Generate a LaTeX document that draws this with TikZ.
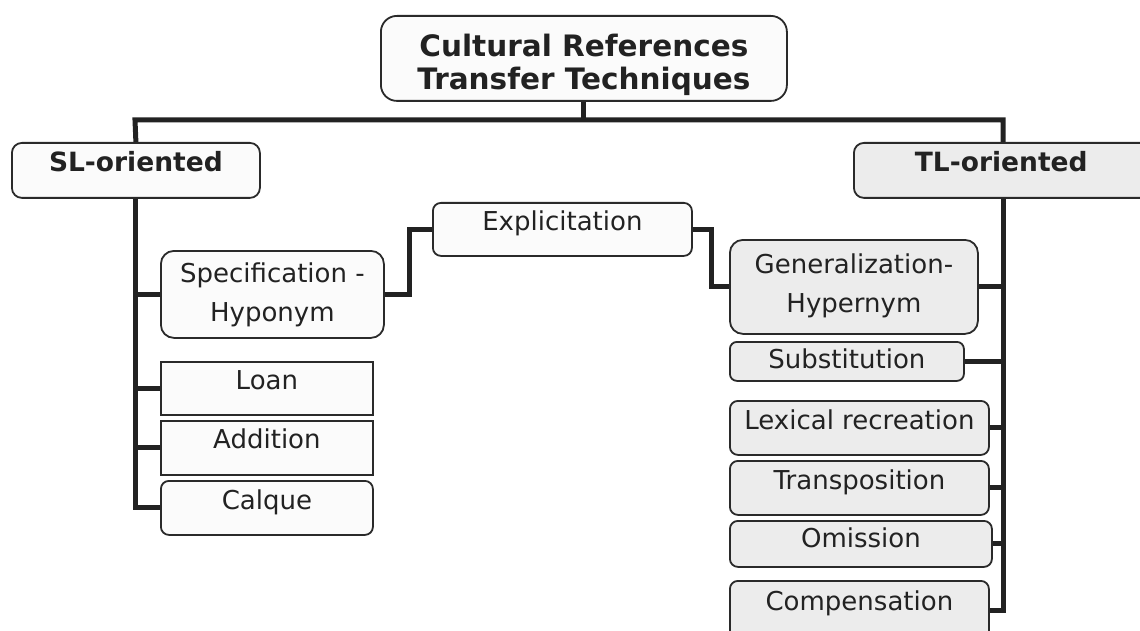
\documentclass[tikz,border=0pt]{standalone}
\usepackage{fontspec}
\setmainfont{DejaVu Sans}
\definecolor{ink}{HTML}{222222}
\definecolor{edge}{HTML}{2A2A2A}
\definecolor{fillW}{HTML}{FBFBFB}
\definecolor{fillG}{HTML}{ECECEC}
\begin{document}
\begin{tikzpicture}[x=1pt,y=-1pt,
  box/.style={draw=edge,line width=1.8pt,text=ink,inner sep=0pt,anchor=north west,
    font=\fontsize{26}{39}\selectfont,align=center},
  wbox/.style={box,fill=fillW},
  gbox/.style={box,fill=fillG},
  oneline/.style={text height=0.8em,text depth=0.6em},
  oneR/.style={text height=0.8em,text depth=0.5em},
  conn/.style={draw=ink,line width=5pt},
  sz/.style 2 args={minimum width=#1pt,minimum height=#2pt}]
\useasboundingbox (0,0) rectangle (1140,631);
\clip (0,0) rectangle (1140,631);
\coordinate (barL) at (135,120);
\coordinate (barR) at (1003,120);
% nodes
\node[wbox,rounded corners=16pt,sz={406}{85},font=\bfseries\fontsize{29.5}{33}\selectfont] (top) at (380,15) {\rule{0pt}{35pt}Cultural References\\Transfer Techniques};
\node[wbox,rounded corners=10pt,sz={248}{55},font=\bfseries\fontsize{26.5}{33}\selectfont,oneline] (sl) at (11,142) {SL-oriented};
\node[gbox,rounded corners=10pt,sz={300}{55},font=\bfseries\fontsize{26.5}{33}\selectfont,oneline,text width=296pt,align=left] (tl) at (853,142) {\hspace*{59pt}TL-oriented};
\node[wbox,rounded corners=8pt,sz={259}{53},oneline] (expl) at (432,202) {Explicitation};
\node[wbox,rounded corners=13pt,sz={223}{87}] (spec) at (160,250) {Specification -\\Hyponym};
\node[wbox,sz={212}{53},oneline] (loan) at (160,361) {Loan};
\node[wbox,sz={212}{54},oneline] (add) at (160,420) {Addition};
\node[wbox,rounded corners=8pt,sz={212}{54},oneR] (calq) at (160,480) {Calque};
\node[gbox,rounded corners=13pt,sz={248}{94},text depth=0.7em] (gen) at (729,239) {Generalization-\\Hypernym};
\node[gbox,rounded corners=7pt,sz={234}{39},text height=0.8em,text depth=0.2em] (sub) at (729,341) {\raisebox{-4pt}{Substitution}};
\node[gbox,rounded corners=8pt,sz={259}{54},oneR] (lex) at (729,400) {Lexical recreation};
\node[gbox,rounded corners=8pt,sz={259}{54},oneR] (trans) at (729,460) {Transposition};
\node[gbox,rounded corners=8pt,sz={262}{46},text height=0.8em,text depth=0.05em] (omi) at (729,520) {Omission};
\node[gbox,rounded corners=8pt,sz={259}{60},text height=0.8em,text depth=0.9em] (comp) at (729,580) {Compensation};
% edges
\draw[conn] (top.south) -- (top.south |- barL);
\draw[conn] (sl.north) -- (barL) -- (barR) -- (tl.north -| barR);
\draw[conn] (sl.south) |- (calq.west);
\draw[conn] (spec.west) -- (spec.west -| sl.south);
\draw[conn] (loan.west) -- (loan.west -| sl.south);
\draw[conn] (add.west) -- (add.west -| sl.south);
\draw[conn] (spec.east) -- ++(25,0) |- (expl.west);
\draw[conn] (expl.east) -- ++(19,0) |- (gen.west);
\draw[conn] (tl.south -| barR) |- (comp.east);
\draw[conn] (gen.east) -- (gen.east -| barR);
\draw[conn] (sub.east) -- (sub.east -| barR);
\draw[conn] (lex.east) -- (lex.east -| barR);
\draw[conn] (trans.east) -- (trans.east -| barR);
\draw[conn] (omi.east) -- (omi.east -| barR);
\end{tikzpicture}
\end{document}
